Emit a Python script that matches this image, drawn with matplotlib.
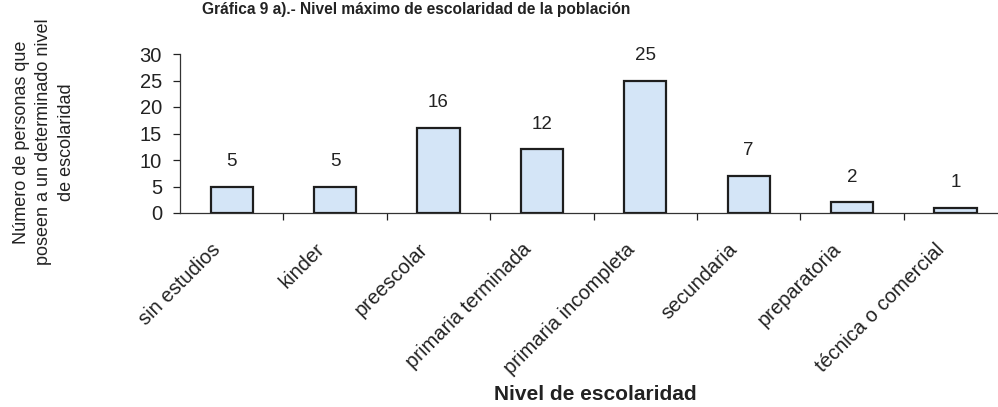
import matplotlib
matplotlib.use("Agg")
import matplotlib.pyplot as plt
import matplotlib.transforms as mtransforms
import numpy as np
from matplotlib.ticker import FixedLocator

plt.rcParams['font.family'] = ['Liberation Sans', 'DejaVu Sans']

categories = ["sin estudios", "kinder", "preescolar", "primaria terminada",
              "primaria incompleta", "secundaria", "preparatoria",
              "técnica o comercial"]
values = [5, 5, 16, 12, 25, 7, 2, 1]
y_ticks = [0, 5, 10, 15, 20, 25, 30]

title = "Gráfica 9 a).- Nivel máximo de escolaridad de la población"
x_label = "Nivel de escolaridad"
y_label = "Número de personas que\nposeen a un determinado nivel\nde escolaridad"

W, H = 998, 407
fig = plt.figure(figsize=(W / 100, H / 100), dpi=100)
ax = fig.add_axes([180 / W, (H - 213) / H, (W - 180) / W, (213 - 54) / H])

x = np.arange(len(categories))
ax.bar(x, values, width=0.41, color="#d4e5f7", edgecolor="#1e1e1e",
       linewidth=1.6, zorder=3)

for xi, v in zip(x, values):
    ax.annotate(str(v), (xi, v), xytext=(0, 15), textcoords="offset points",
                ha="center", va="baseline", fontsize=13.5, color="#222222")

ax.set_xlim(-0.5, (W - 180) / 103.4 - 0.5)
ax.set_ylim(0, 30)

ax.set_yticks(y_ticks)
ax.tick_params(axis="y", direction="out", length=5, width=0.9, pad=8,
               labelsize=14.5, colors="#222222")

ax.set_xticks(x)
ax.set_xticklabels(categories, rotation=45, ha="right", va="baseline",
                   rotation_mode="anchor", fontsize=14.5, color="#222222")
ax.tick_params(axis="x", which="major", length=0, pad=27)
shift = mtransforms.ScaledTranslation(-10 / 100, 0, fig.dpi_scale_trans)
for lbl in ax.get_xticklabels():
    lbl.set_transform(lbl.get_transform() + shift)
ax.xaxis.set_minor_locator(FixedLocator(np.arange(0.5, len(categories), 1.0)))
ax.tick_params(axis="x", which="minor", direction="out", length=5, width=0.9,
               colors="#222222")

for s in ("top", "right"):
    ax.spines[s].set_visible(False)
for s in ("left", "bottom"):
    ax.spines[s].set_linewidth(0.9)
    ax.spines[s].set_color("#333333")

fig.text(416 / W, (H - 14) / H, title, ha="center", va="baseline",
         fontsize=11.2, fontweight="bold", color="#222222")
fig.text(595 / W, (H - 395) / H, x_label, ha="center", va="center",
         fontsize=15, fontweight="bold", color="#222222")
fig.text(44 / W, (H - 142) / H, y_label, ha="center", va="center",
         rotation=90, fontsize=13, linespacing=1.4, color="#222222",
         multialignment="center")

fig.savefig("out.png", dpi=100)
